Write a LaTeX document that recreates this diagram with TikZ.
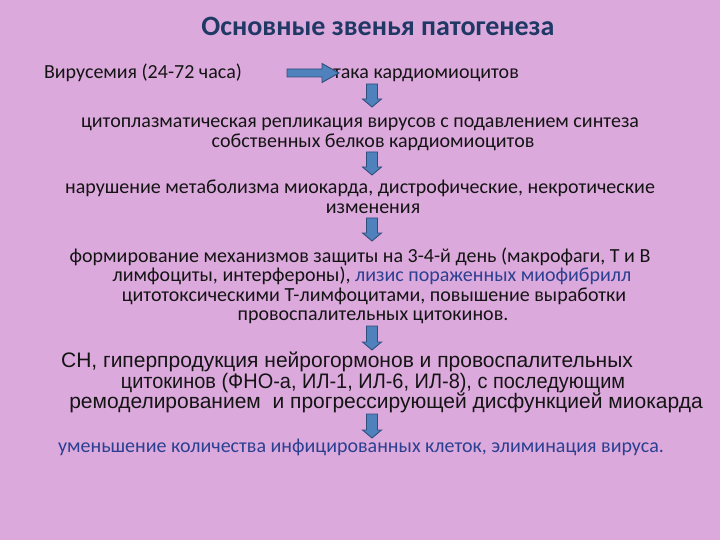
\documentclass[tikz,border=0pt]{standalone}
\usepackage{fontspec}
\setmainfont{Carlito}
\newfontfamily\arialf{Liberation Sans}
\definecolor{bg}{HTML}{DCA9DD}
\definecolor{arrowfill}{HTML}{4F81BD}
\definecolor{arrowline}{HTML}{2F4F7A}
\definecolor{titlecol}{HTML}{1F3864}
\definecolor{bluetext}{HTML}{2B4090}
\definecolor{bodytext}{HTML}{141414}
\tikzset{
  txt/.style={inner sep=0pt, font=\fontsize{20}{20}\selectfont, text=bodytext, anchor=base},
  atxt/.style={inner sep=0pt, font=\arialf\fontsize{21}{21}\selectfont, text=bodytext, anchor=base},
  blockarrow/.style={fill=arrowfill, draw=arrowline, line width=0.9pt, line join=miter}
}
\begin{document}
\begin{tikzpicture}[x=1pt,y=-1pt]
\fill[bg] (0,0) rectangle (720,540);
\useasboundingbox (0,0) rectangle (720,540);

\node[inner sep=0pt, anchor=base, font=\bfseries\fontsize{28}{28}\selectfont, text=titlecol] (title) at (378,36) {Основные звенья патогенеза};

\node[txt] (vir) at (143,79) {Вирусемия (24-72 часа)};
\node[txt] (atk) at (426,79) {така кардиомиоцитов};

% horizontal block arrow
\draw[blockarrow] (287,69) -- (322,69) -- (322,63.5) -- (339,73) -- (322,82.5) -- (322,77) -- (287,77) -- cycle;

\node[txt] (c1) at (360,128) {цитоплазматическая репликация вирусов с подавлением синтеза};
\node[txt] (c2) at (373,148) {собственных белков кардиомиоцитов};

\node[txt] (n1) at (360,194) {нарушение метаболизма миокарда, дистрофические, некротические};
\node[txt] (n2) at (373,214) {изменения};

\node[txt] (f1) at (360,262) {формирование механизмов защиты на 3-4-й день (макрофаги, Т и В};
\node[txt] (f2) at (372,281) {лимфоциты, интерфероны), \textcolor{bluetext}{лизис пораженных миофибрилл}};
\node[txt] (f3) at (374,301) {цитотоксическими Т-лимфоцитами, повышение выработки};
\node[txt] (f4) at (373,320) {провоспалительных цитокинов.};

\node[atxt] (s1) at (347,367) {СН, гиперпродукция нейрогормонов и провоспалительных};
\node[atxt] (s2) at (373,388) {\scalebox{0.95}[1]{цитокинов (ФНО-а, ИЛ-1, ИЛ-6, ИЛ-8), с последующим}};
\node[atxt] (s3) at (386,408) {ремоделированием \ и прогрессирующей дисфункцией миокарда};

\node[txt, text=bluetext] (last) at (361,452) {уменьшение количества инфицированных клеток, элиминация вируса.};

% vertical block arrows
\foreach \t/\b in {84/107, 152/175, 218/241, 326/350, 414/438}{
  \draw[blockarrow] (366.5,\t) -- (377.5,\t) -- (377.5,\b-8) -- (381.5,\b-8) -- (372,\b) -- (362.5,\b-8) -- (366.5,\b-8) -- cycle;
}
\end{tikzpicture}
\end{document}
